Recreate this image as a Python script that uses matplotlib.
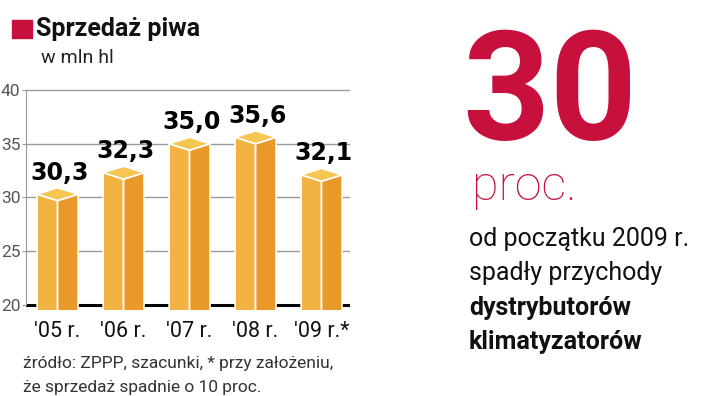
import matplotlib.pyplot as plt
from matplotlib.patches import Polygon

years = ["'05 r.", "'06 r.", "'07 r.", "'08 r.", "'09 r.*"]
sales = [30.3, 32.3, 35.0, 35.6, 32.1]
labels = ["30,3", "32,3", "35,0", "35,6", "32,1"]
yticks = [20, 25, 30, 35, 40]

red = '#c8103c'
c_top = '#f6c552'
c_front = '#f2b343'
c_side = '#e8992a'

plt.rcParams['font.family'] = ['Roboto', 'DejaVu Sans']

fig = plt.figure(figsize=(7.2, 3.96), dpi=100)
ax = fig.add_axes([0.036, 0.217, 0.45, 0.561])
ax.set_xlim(-0.48, 4.43)
ax.set_ylim(19.5, 40.2)

# grid and baseline
for t in yticks[1:]:
    ax.axhline(t, color='#9a9a9a', lw=1, zorder=0)
ax.axhline(20, color='black', lw=2.2, zorder=1)

hw = 0.31   # half width of a bar
dz = 0.6    # depth of the top face
base = 18.5
for i, v in enumerate(sales):
    front = Polygon([(i - hw, base), (i - hw, v), (i, v - dz), (i, base - dz)],
                    closed=True, fc=c_front, ec='white', lw=1.2, zorder=2)
    side = Polygon([(i, base - dz), (i, v - dz), (i + hw, v), (i + hw, base)],
                   closed=True, fc=c_side, ec='white', lw=1.2, zorder=2)
    top = Polygon([(i - hw, v), (i, v - dz), (i + hw, v), (i, v + dz)],
                  closed=True, fc=c_top, ec='white', lw=1.2, zorder=3)
    for p in (front, side, top):
        ax.add_patch(p)
    ax.text(i + 0.03, v + 0.9, labels[i], ha='center', va='bottom',
            fontsize=17, fontweight='bold', family='DejaVu Sans', zorder=4)

for s in ['top', 'right', 'bottom']:
    ax.spines[s].set_visible(False)
ax.spines['left'].set_color('#9a9a9a')
ax.spines['left'].set_bounds(20, 40)
ax.set_yticks(yticks)
ax.set_yticklabels([str(t) for t in yticks], fontsize=12.5, color='#555555')
ax.tick_params(axis='y', length=3, color='#9a9a9a', pad=1)
ax.set_xticks(range(len(years)))
ax.set_xticklabels(years, fontsize=15.5, color='#111111')
ax.tick_params(axis='x', length=0, pad=8)

# title block
fig.patches.append(plt.Rectangle((12 / 720, 1 - 38 / 396), 20 / 720, 18 / 396,
                                 transform=fig.transFigure, color=red))
fig.text(36 / 720, 1 - 36 / 396, 'Sprzedaż piwa', fontsize=18,
         fontweight='bold', color='#111111', va='baseline')
fig.text(41 / 720, 1 - 63 / 396, 'w mln hl', fontsize=14,
         color='#222222', va='baseline')

# source
fig.text(23 / 720, 1 - 368 / 396, 'źródło: ZPPP, szacunki, * przy założeniu,',
         fontsize=12.5, color='#333333', va='baseline')
fig.text(23 / 720, 1 - 392 / 396, 'że sprzedaż spadnie o 10 proc.',
         fontsize=12.5, color='#333333', va='baseline')

# right side
fig.text(462 / 720, 1 - 140 / 396, '30', fontsize=110, fontweight='bold',
         color=red, va='baseline')
fig.text(472 / 720, 1 - 200 / 396, 'proc.', fontsize=35, fontweight='light',
         color=red, va='baseline')
fig.text(469 / 720, 1 - 246 / 396, 'od początku 2009 r.', fontsize=18,
         color='#111111', va='baseline')
fig.text(469 / 720, 1 - 280 / 396, 'spadły przychody', fontsize=18,
         color='#111111', va='baseline')
fig.text(469 / 720, 1 - 315 / 396, 'dystrybutorów', fontsize=18,
         fontweight='bold', color='#111111', va='baseline')
fig.text(469 / 720, 1 - 349 / 396, 'klimatyzatorów', fontsize=18,
         fontweight='bold', color='#111111', va='baseline')

fig.savefig('out.png', dpi=100)
